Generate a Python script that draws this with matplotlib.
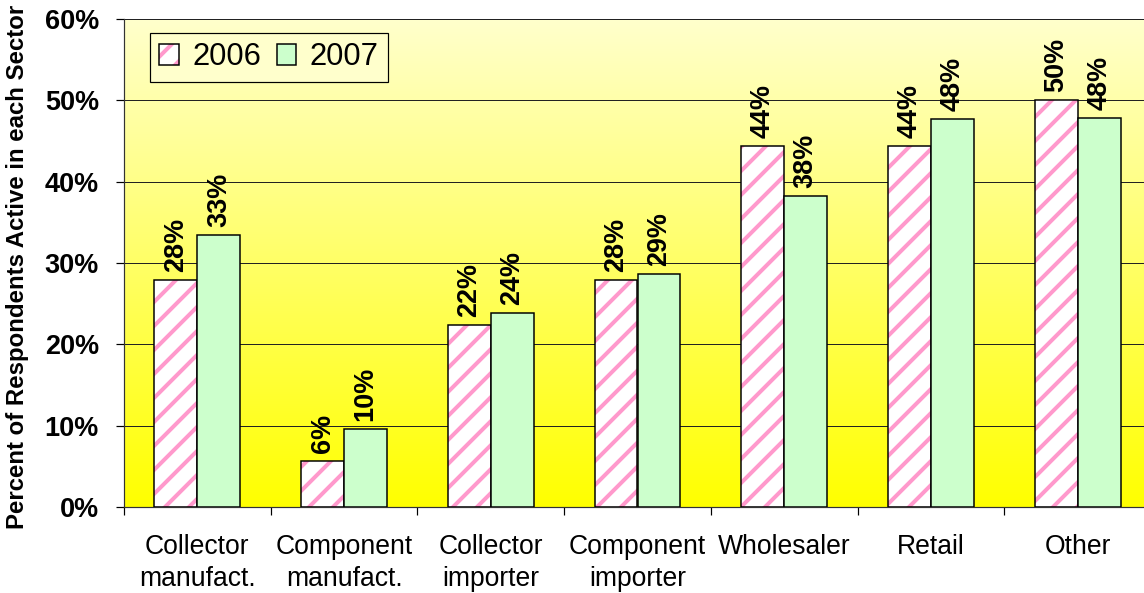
import matplotlib
matplotlib.use("Agg")
import matplotlib.pyplot as plt
import numpy as np
from matplotlib.patches import Patch
from matplotlib.legend_handler import HandlerTuple

# data
categories = ["Collector\nmanufact.", "Component\nmanufact.", "Collector\nimporter",
              "Component\nimporter", "Wholesaler", "Retail", "Other"]
years = ["2006", "2007"]
pct_2006 = [27.9, 5.6, 22.4, 27.9, 44.4, 44.4, 50.0]
pct_2007 = [33.4, 9.6, 23.8, 28.7, 38.2, 47.7, 47.8]
yticks = [0, 10, 20, 30, 40, 50, 60]

PINK = "#FF99CC"
GREEN = "#CCFFCC"
FONT = ["Liberation Sans", "DejaVu Sans"]

plt.rcParams["font.family"] = FONT
plt.rcParams["hatch.linewidth"] = 4.0

DPI = 72
fig = plt.figure(figsize=(1144 / DPI, 593 / DPI), dpi=DPI)
fig.patch.set_facecolor("white")
ax = fig.add_axes([124 / 1144, 1 - 507 / 593, 1027 / 1144, 488 / 593])

# gradient background: pale yellow at top, strong yellow at bottom
grad = np.linspace(0, 1, 256).reshape(-1, 1)
top = np.array([1.0, 1.0, 0.80])
bot = np.array([1.0, 1.0, 0.0])
img = top[None, None, :] * (1 - grad[:, :, None]) + bot[None, None, :] * grad[:, :, None]
ax.imshow(img, extent=[-0.5, 6.5, 0, 60], origin="upper", aspect="auto", zorder=0)

x = np.arange(len(categories))
w = 0.293

# 2006: white bars with pink diagonal stripes, then a black outline on top
ax.bar(x - w / 2, pct_2006, w, color="white", edgecolor=PINK, hatch="/", linewidth=0, zorder=2)
ax.bar(x - w / 2, pct_2006, w, fill=False, edgecolor="black", linewidth=1.5, zorder=3)
ax.bar(x + w / 2, pct_2007, w, color=GREEN, edgecolor="black", linewidth=1.5, zorder=3)

for xs, vals in [(x - w / 2, pct_2006), (x + w / 2, pct_2007)]:
    for xi, v in zip(xs, vals):
        ax.annotate(f"{v:.0f}%", (xi, v), xytext=(0, 8), textcoords="offset points",
                    rotation=90, ha="center", va="bottom", fontsize=27,
                    fontweight="bold", zorder=4)

ax.set_xlim(-0.5, 6.5)
ax.set_ylim(0, 60)

for yv in yticks[1:]:
    ax.axhline(yv, color="#222222", linewidth=1.0, zorder=1)

ax.set_yticks(yticks)
ax.set_yticklabels([f"{t}%" for t in yticks], fontsize=27, fontweight="bold")
ax.tick_params(axis="y", direction="out", length=8, width=1.2, pad=17)

ax.set_xticks(x)
ax.set_xticklabels(categories, fontsize=26.5, linespacing=1.3)
ax.set_xticks(np.arange(-0.5, 7, 1), minor=True)
ax.tick_params(axis="x", which="major", length=0, pad=27)
ax.tick_params(axis="x", which="minor", direction="out", length=8, width=1.2)

for s in ["top", "right"]:
    ax.spines[s].set_visible(False)
for s in ["left", "bottom"]:
    ax.spines[s].set_linewidth(1.2)
    ax.spines[s].set_color("#333333")

fig.text(18 / 1144, 1 - 267 / 593, "Percent of Respondents Active in each Sector",
         rotation=90, ha="center", va="center", fontsize=24, fontweight="bold")

h06 = (Patch(facecolor="white", edgecolor=PINK, hatch="/", linewidth=0),
       Patch(fill=False, edgecolor="black", linewidth=1.5))
h07 = Patch(facecolor=GREEN, edgecolor="black", linewidth=1.5)
leg = ax.legend([h06, h07], years, loc="upper left", bbox_to_anchor=(0.0253, 0.971),
                borderaxespad=0, ncol=2, fontsize=31, frameon=True, fancybox=False,
                handlelength=0.62, handleheight=0.62, handletextpad=0.45,
                columnspacing=0.5, borderpad=0.3,
                handler_map={tuple: HandlerTuple(ndivide=1, pad=0)})
leg.get_frame().set_facecolor("#FFFFCC")
leg.get_frame().set_edgecolor("black")
leg.get_frame().set_linewidth(1.2)
leg.get_frame().set_alpha(1)
leg.set_zorder(5)

fig.savefig("out.png", dpi=DPI, facecolor="white")
